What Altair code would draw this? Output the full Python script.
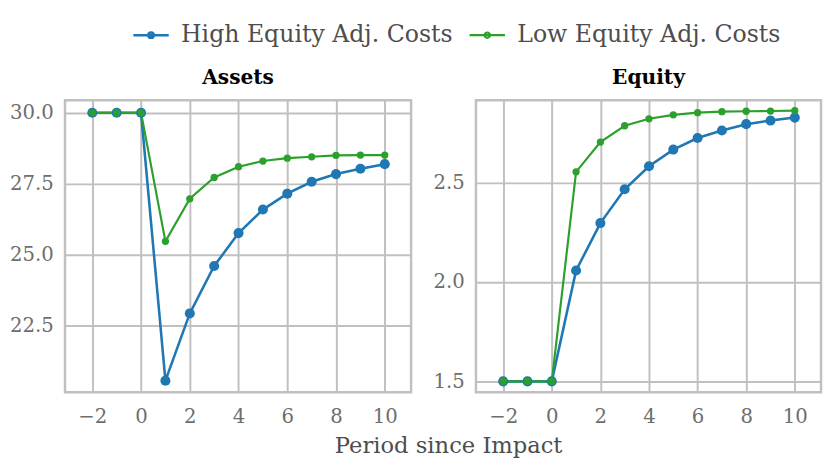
import altair as alt
import pandas as pd

periods = list(range(-2, 11))
series_names = ["High Equity Adj. Costs", "Low Equity Adj. Costs"]
series_colors = ["#1f77b4", "#2ca02c"]
marker_sizes = [105, 55]

assets_high = [30.0, 30.0, 30.0, 20.56, 22.93, 24.60, 25.76, 26.59, 27.15, 27.57, 27.84, 28.03, 28.19]
assets_low = [30.0, 30.0, 30.0, 25.47, 26.97, 27.72, 28.10, 28.30, 28.40, 28.45, 28.50, 28.51, 28.51]
equity_high = [1.5, 1.5, 1.5, 2.058, 2.297, 2.467, 2.583, 2.667, 2.725, 2.763, 2.795, 2.813, 2.828]
equity_low = [1.5, 1.5, 1.5, 2.555, 2.705, 2.787, 2.822, 2.842, 2.853, 2.858, 2.860, 2.861, 2.863]

x_ticks = [-2, 0, 2, 4, 6, 8, 10]
assets_ticks = [22.5, 25.0, 27.5, 30.0]
equity_ticks = [1.5, 2.0, 2.5]


def make_df(high, low):
    rows = []
    for name, vals in zip(series_names, [high, low]):
        for p, v in zip(periods, vals):
            rows.append({"period": p, "value": v, "series": name})
    return pd.DataFrame(rows)


FONT = "DejaVu Serif"
# line (36 px) with a dot, drawn in a 24 px legend symbol box
sym_path = "M-1.5,0H1.5M0.225,0A0.225,0.225,0,1,1,-0.225,0A0.225,0.225,0,1,1,0.225,0Z"

color_scale = alt.Scale(domain=series_names, range=series_colors)
legend = alt.Legend(
    title=None, orient="none", legendX=74, legendY=-80, direction="horizontal",
    symbolType=sym_path, symbolSize=576, symbolStrokeWidth=3,
    labelFont=FONT, labelFontSize=24, labelColor="#4d4d4d",
    labelOffset=17, columnPadding=12, labelLimit=400,
)


def panel(df, title, ydomain, yticks, width):
    base = alt.Chart(df).encode(
        x=alt.X("period:Q",
                scale=alt.Scale(domain=[-3.12, 11.08], nice=False, zero=False),
                axis=alt.Axis(values=x_ticks, title=None, format="d", labelPadding=15)),
        y=alt.Y("value:Q",
                scale=alt.Scale(domain=ydomain, nice=False, zero=False),
                axis=alt.Axis(values=yticks, title=None, format=".1f", labelPadding=12)),
    )
    lines = base.mark_line().encode(
        stroke=alt.Stroke("series:N", scale=color_scale, legend=legend),
        strokeWidth=alt.StrokeWidth("series:N",
                                    scale=alt.Scale(domain=series_names, range=[2.6, 2.2]),
                                    legend=None),
        detail="series:N",
    )
    layers = [lines]
    for name, col, sz in zip(series_names, series_colors, marker_sizes):
        layers.append(
            base.transform_filter(alt.datum.series == name)
            .mark_point(filled=True, opacity=1, strokeWidth=0, size=sz, color=col)
        )
    return alt.layer(*layers).properties(
        width=width, height=297,
        title=alt.TitleParams(title, font=FONT, fontSize=20.5, fontWeight="bold",
                              color="black", offset=12),
    )


left = panel(make_df(assets_high, assets_low), "Assets", [20.15, 30.44], assets_ticks, 352)
right = panel(make_df(equity_high, equity_low), "Equity", [1.445, 2.915], equity_ticks, 351)

chart = alt.hconcat(left, right, spacing=18).properties(
    padding={"left": 0, "top": 10, "right": 0, "bottom": 0},
    title=alt.TitleParams("Period since Impact", orient="bottom", anchor="middle",
                          font=FONT, fontSize=23, fontWeight="normal",
                          color="#4d4d4d", offset=7, dx=34),
).configure_axis(
    grid=True, gridColor="#c0c0c0", gridWidth=2, domain=False, ticks=False,
    labelFont=FONT, labelFontSize=20, labelColor="#6e6e6e",
).configure_view(
    stroke="#c0c0c0", strokeWidth=2.5,
)

chart.save("out.html", embed_options={"renderer": "svg", "actions": False})
